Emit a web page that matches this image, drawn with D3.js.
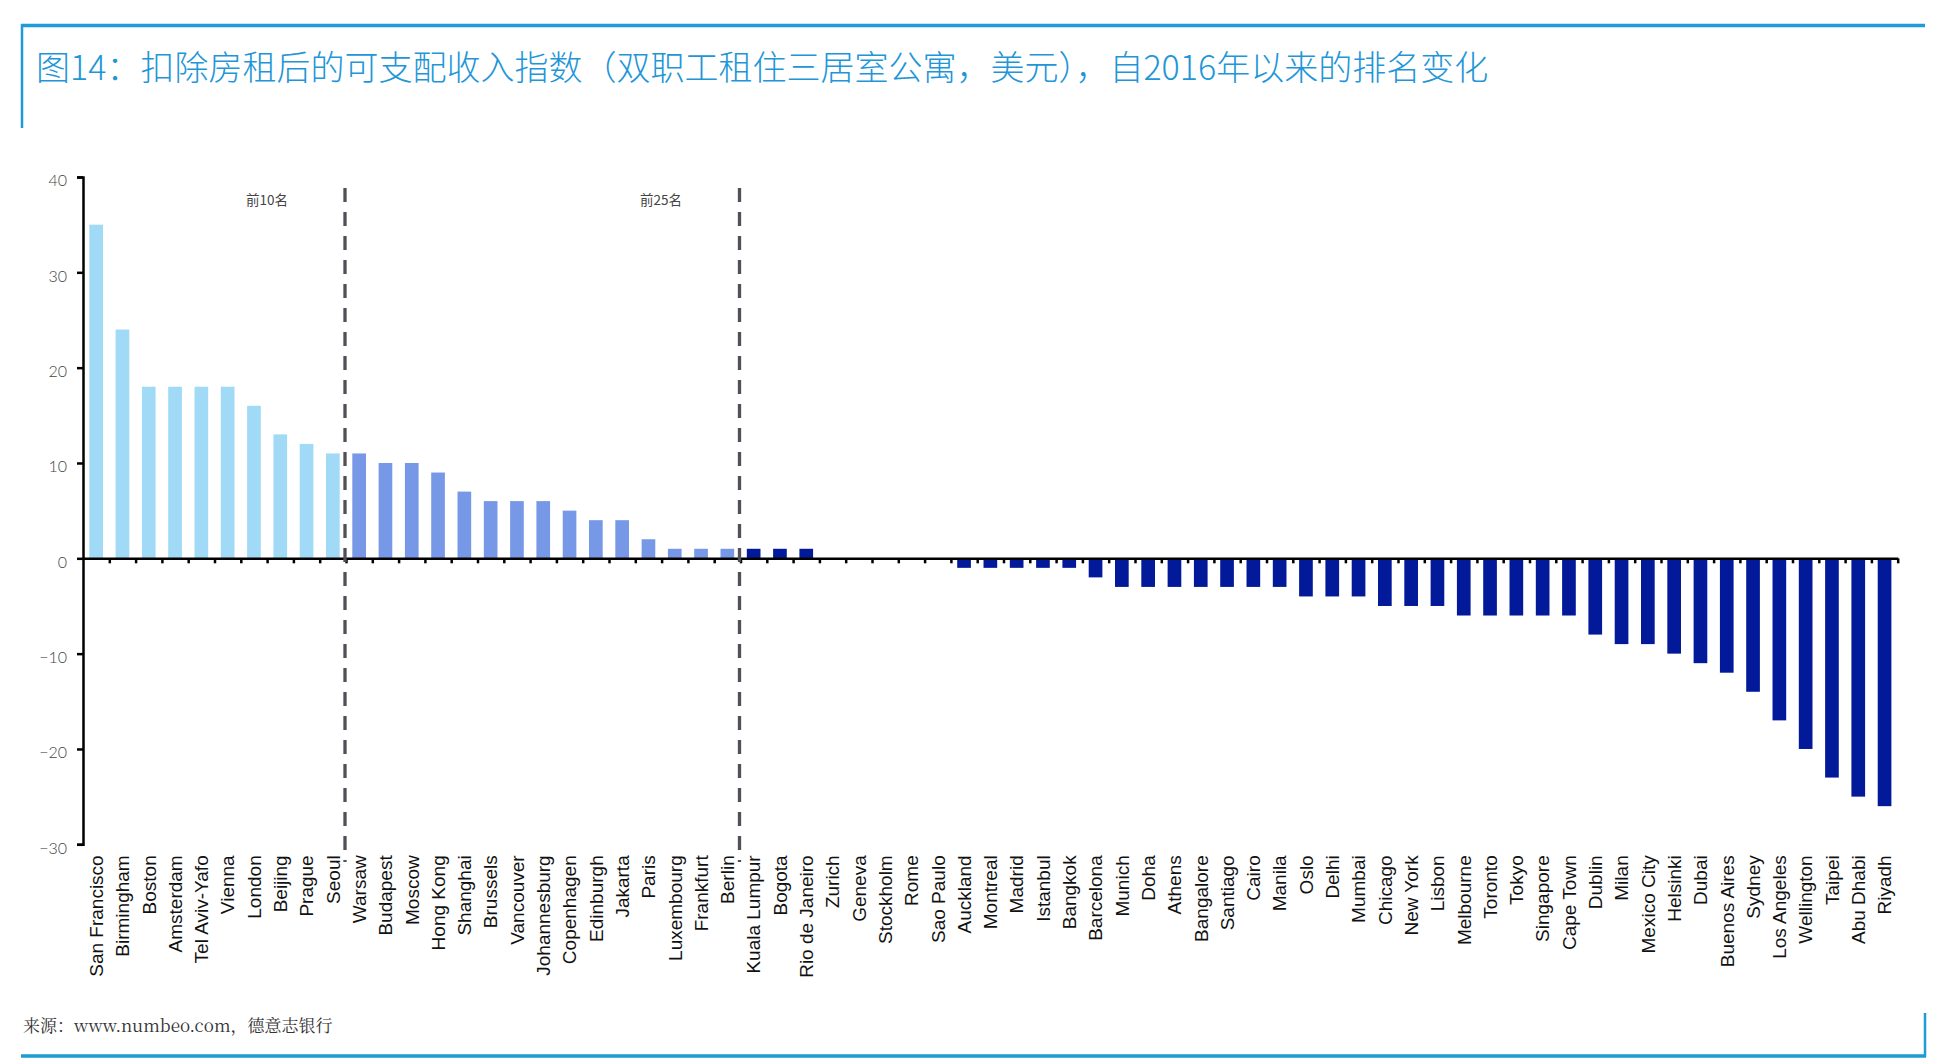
<!DOCTYPE html>
<html>
<head>
<meta charset="utf-8">
<script src="https://cdn.jsdelivr.net/npm/d3@7"></script>
<style>
  html, body { margin: 0; padding: 0; background: #fff; }
  svg { display: block; }
</style>
</head>
<body>
<svg width="1959" height="1061"></svg>
<script>
// cities, ranked by change in position since 2016
var cities = ["San Francisco","Birmingham","Boston","Amsterdam","Tel Aviv-Yafo","Vienna","London","Beijing","Prague","Seoul",
  "Warsaw","Budapest","Moscow","Hong Kong","Shanghai","Brussels","Vancouver","Johannesburg","Copenhagen","Edinburgh",
  "Jakarta","Paris","Luxembourg","Frankfurt","Berlin","Kuala Lumpur","Bogota","Rio de Janeiro","Zurich","Geneva",
  "Stockholm","Rome","Sao Paulo","Auckland","Montreal","Madrid","Istanbul","Bangkok","Barcelona","Munich",
  "Doha","Athens","Bangalore","Santiago","Cairo","Manila","Oslo","Delhi","Mumbai","Chicago",
  "New York","Lisbon","Melbourne","Toronto","Tokyo","Singapore","Cape Town","Dublin","Milan","Mexico City",
  "Helsinki","Dubai","Buenos Aires","Sydney","Los Angeles","Wellington","Taipei","Abu Dhabi","Riyadh"];

var changes = [35,24,18,18,18,18,16,13,12,11,
  11,10,10,9,7,6,6,6,5,4,
  4,2,1,1,1,1,1,1,0,0,
  0,0,0,-1,-1,-1,-1,-1,-2,-3,
  -3,-3,-3,-3,-3,-3,-4,-4,-4,-5,
  -5,-5,-6,-6,-6,-6,-6,-8,-9,-9,
  -10,-11,-12,-14,-17,-20,-23,-25,-26];

var yTicks = [-30,-20,-10,0,10,20,30,40];
var tierBreaks = [10, 25];
var tierLabels = ["前10名", "前25名"];
var tierColors = ["#a0daf6", "#7698e6", "#021a99"];

var title = "图14：扣除房租后的可支配收入指数（双职工租住三居室公寓，美元），自2016年以来的排名变化";
var source = "来源：www.numbeo.com，德意志银行";

function draw() {
  var svg = d3.select("svg");
  var plotLeft = 83, plotRight = 1897.7, plotTop = 177, plotBottom = 844.3;

  var x = d3.scaleBand().domain(cities).range([plotLeft, plotRight]).paddingInner(0.48).paddingOuter(0.24);
  var xi = d3.scaleLinear().domain([0, cities.length]).range([plotLeft, plotRight]);
  var y = d3.scaleLinear().domain([-30, 40]).range([plotBottom, plotTop]);

  function tier(i) { return i < tierBreaks[0] ? 0 : (i < tierBreaks[1] ? 1 : 2); }

  // frame
  var blue = "#1f9bd7";
  svg.append("line").attr("x1", 21).attr("x2", 1925).attr("y1", 25.5).attr("y2", 25.5)
    .attr("stroke", blue).attr("stroke-width", 3.5);
  svg.append("line").attr("x1", 22).attr("x2", 22).attr("y1", 24).attr("y2", 128)
    .attr("stroke", blue).attr("stroke-width", 2.5);
  svg.append("line").attr("x1", 21).attr("x2", 1926).attr("y1", 1056).attr("y2", 1056)
    .attr("stroke", blue).attr("stroke-width", 3.5);
  svg.append("line").attr("x1", 1925).attr("x2", 1925).attr("y1", 1013).attr("y2", 1057)
    .attr("stroke", blue).attr("stroke-width", 2.5);

  svg.append("text").attr("x", 36).attr("y", 80)
    .attr("font-family", "Noto Sans CJK SC").attr("font-weight", 300)
    .attr("font-size", 34).attr("fill", "#1e96d7")
    .text(title);

  svg.append("text").attr("x", 23).attr("y", 1032)
    .attr("font-family", "'Noto Serif CJK SC','Liberation Serif','Noto Sans CJK SC'").attr("font-size", 17).attr("fill", "#333")
    .text(source);

  // bars
  svg.append("g").selectAll("rect")
    .data(changes)
    .enter()
    .append("rect")
    .attr("x", function(d, i) { return x(cities[i]); })
    .attr("width", x.bandwidth())
    .attr("y", function(d) { return y(Math.max(0, d)); })
    .attr("height", function(d) { return Math.abs(y(d) - y(0)); })
    .attr("fill", function(d, i) { return tierColors[tier(i)]; });

  // y axis
  var yAxis = svg.append("g")
    .attr("transform", "translate(" + plotLeft + ",0)")
    .call(d3.axisLeft(y).tickValues(yTicks).tickSize(6).tickPadding(10).tickFormat(d3.format("d")));
  yAxis.select(".domain").attr("stroke", "#000").attr("stroke-width", 2.5);
  yAxis.selectAll(".tick line").attr("stroke", "#000").attr("stroke-width", 2.5);
  yAxis.selectAll(".tick text")
    .attr("font-family", "Lato, 'Open Sans', sans-serif").attr("font-weight", 300)
    .attr("font-size", 16).attr("fill", "#444").attr("dy", "0.55em");

  // x axis (ticks between categories)
  var xAxis = svg.append("g")
    .attr("transform", "translate(0," + y(0) + ")")
    .call(d3.axisBottom(xi).tickValues(d3.range(1, cities.length + 1)).tickSize(5).tickSizeOuter(0).tickFormat(""));
  xAxis.select(".domain").attr("stroke", "#000").attr("stroke-width", 2.5);
  xAxis.selectAll(".tick line").attr("stroke", "#000").attr("stroke-width", 2.5);

  // category labels
  svg.append("g").selectAll("text")
    .data(cities)
    .enter()
    .append("text")
    .attr("transform", function(d) { return "translate(" + (x(d) + x.bandwidth() / 2) + "," + (plotBottom + 11) + ") rotate(-90)"; })
    .attr("text-anchor", "end")
    .attr("dy", "0.36em")
    .attr("font-family", "'Liberation Sans', Arial, sans-serif")
    .attr("font-size", 19)
    .attr("fill", "#111")
    .text(function(d) { return d; });

  // tier dividers and labels
  svg.append("g").selectAll("line")
    .data(tierBreaks)
    .enter()
    .append("line")
    .attr("x1", function(d) { return xi(d) - 1; })
    .attr("x2", function(d) { return xi(d) - 1; })
    .attr("y1", 188).attr("y2", 862)
    .attr("stroke", "#505058").attr("stroke-width", 3.3).attr("stroke-dasharray", "14,10");

  var labelAt = [267, 661];
  svg.append("g").selectAll("text")
    .data(tierLabels)
    .enter()
    .append("text")
    .attr("x", function(d, i) { return labelAt[i]; })
    .attr("y", 205)
    .attr("text-anchor", "middle")
    .attr("font-family", "Noto Sans CJK SC").attr("font-size", 13.5).attr("fill", "#444")
    .text(function(d) { return d; });
}

draw();
</script>
</body>
</html>
